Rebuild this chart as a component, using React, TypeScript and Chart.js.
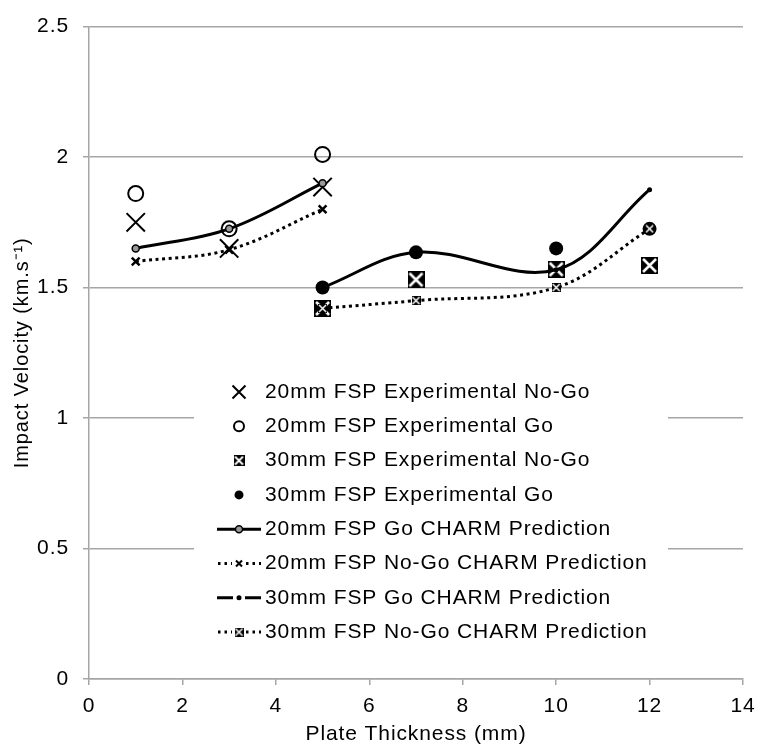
import React, { useEffect, useRef } from 'react';
import { Chart, registerables } from 'chart.js';
Chart.register(...registerables);

// ---- data ----
const x20 = [1, 3, 5];
const x30 = [5, 7, 10, 12];
const exp20NoGo = [1.75, 1.65, 1.885];
const exp20Go = [1.86, 1.725, 2.01];
const exp30NoGo = [1.42, 1.53, 1.57, 1.585];
const exp30Go = [1.5, 1.635, 1.65, 1.725];
const pred20Go = [1.65, 1.725, 1.9];
const pred20NoGo = [1.6, 1.645, 1.8];
const pred30Go = [1.5, 1.635, 1.568, 1.875];
const pred30NoGo = [1.42, 1.45, 1.5, 1.725];
const seriesNames = [
  '20mm FSP Experimental No-Go',
  '20mm FSP Experimental Go',
  '30mm FSP Experimental No-Go',
  '30mm FSP Experimental Go',
  '20mm FSP Go CHARM Prediction',
  '20mm FSP No-Go CHARM Prediction',
  '30mm FSP Go CHARM Prediction',
  '30mm FSP No-Go CHARM Prediction',
];
const xTitle = 'Plate Thickness (mm)';
const yTitle = 'Impact Velocity (km.s\u207B\u00B9)';

const FONT_FAMILY = '"Liberation Sans", Arial, sans-serif';
const GRID = '#a6a6a6';
const SPACING = '0.9px';

function boxX(size: number, lw: number, margin: number): HTMLCanvasElement {
  const c = document.createElement('canvas');
  c.width = size;
  c.height = size;
  const g = c.getContext('2d')!;
  g.fillStyle = '#000';
  g.fillRect(0, 0, size, size);
  g.strokeStyle = '#fff';
  g.lineWidth = lw;
  g.beginPath();
  g.moveTo(margin, margin);
  g.lineTo(size - margin, size - margin);
  g.moveTo(size - margin, margin);
  g.lineTo(margin, size - margin);
  g.stroke();
  return c;
}

const pts = (xs: number[], ys: number[]) => xs.map((x, i) => ({ x, y: ys[i] }));

function drawLegend(chart: any) {
  const ctx: CanvasRenderingContext2D = chart.ctx;
  ctx.save();
  ctx.fillStyle = '#fff';
  ctx.fillRect(194, 372, 474, 280);
  const cx = 239;
  const y0 = 392;
  const dy = 34.3;
  ctx.strokeStyle = '#000';
  ctx.fillStyle = '#000';
  const line = (y: number, dash: number[], segs: [number, number][]) => {
    ctx.save();
    ctx.lineWidth = 3;
    ctx.setLineDash(dash);
    ctx.beginPath();
    for (const [a, b] of segs) {
      ctx.moveTo(a, y);
      ctx.lineTo(b, y);
    }
    ctx.stroke();
    ctx.restore();
  };
  const xMark = (x: number, y: number, h: number, lw: number) => {
    ctx.save();
    ctx.lineWidth = lw;
    ctx.beginPath();
    ctx.moveTo(x - h, y - h);
    ctx.lineTo(x + h, y + h);
    ctx.moveTo(x + h, y - h);
    ctx.lineTo(x - h, y + h);
    ctx.stroke();
    ctx.restore();
  };
  for (let i = 0; i < seriesNames.length; i++) {
    const y = y0 + i * dy;
    switch (i) {
      case 0:
        xMark(cx, y, 6.5, 2);
        break;
      case 1:
        ctx.save();
        ctx.lineWidth = 2;
        ctx.beginPath();
        ctx.arc(cx, y, 5, 0, Math.PI * 2);
        ctx.stroke();
        ctx.restore();
        break;
      case 2:
        ctx.drawImage(boxX(11, 1.8, 1.5), cx - 5.5, y - 5.5);
        break;
      case 3:
        ctx.beginPath();
        ctx.arc(cx, y, 4.5, 0, Math.PI * 2);
        ctx.fill();
        break;
      case 4:
        line(y, [], [[217, 261]]);
        ctx.save();
        ctx.lineWidth = 1.5;
        ctx.fillStyle = '#999';
        ctx.beginPath();
        ctx.arc(cx, y, 3.5, 0, Math.PI * 2);
        ctx.fill();
        ctx.stroke();
        ctx.restore();
        break;
      case 5:
        line(y, [2.5, 4], [[218, 232], [246, 261]]);
        xMark(cx, y, 3, 2);
        break;
      case 6:
        line(y, [], [[217, 233], [245, 261]]);
        ctx.beginPath();
        ctx.arc(cx, y, 2.5, 0, Math.PI * 2);
        ctx.fill();
        break;
      case 7:
        line(y, [2.5, 4], [[218, 232], [246, 261]]);
        ctx.drawImage(boxX(9, 1.5, 1), cx - 4.5, y - 4.5);
        break;
    }
    ctx.fillStyle = '#000';
    ctx.font = `21px ${FONT_FAMILY}`;
    ctx.textBaseline = 'middle';
    ctx.textAlign = 'left';
    (ctx as any).letterSpacing = SPACING;
    ctx.fillText(seriesNames[i], 265, y);
  }
  ctx.restore();
}

export default function App() {
  const ref = useRef<HTMLCanvasElement | null>(null);
  useEffect(() => {
    if (!ref.current) return;
    const bigBox = boxX(17, 2.5, 2);
    const smallBox = boxX(9, 1.5, 1);
    const font = { family: FONT_FAMILY, size: 21 };
    const lineBase = {
      showLine: true,
      borderColor: '#000',
      borderWidth: 3,
      tension: 0.36,
      fill: false,
    };
    const datasets: any[] = [
      {
        label: seriesNames[0],
        data: pts(x20, exp20NoGo),
        showLine: false,
        pointStyle: 'crossRot',
        pointRadius: 13,
        pointBorderWidth: 2,
        pointBorderColor: '#000',
        order: 8,
      },
      {
        label: seriesNames[1],
        data: pts(x20, exp20Go),
        showLine: false,
        pointStyle: 'circle',
        pointRadius: 7.5,
        pointBorderWidth: 2,
        pointBorderColor: '#000',
        pointBackgroundColor: 'rgba(0,0,0,0)',
        order: 7,
      },
      {
        label: seriesNames[2],
        data: pts(x30, exp30NoGo),
        showLine: false,
        pointStyle: bigBox,
        pointRadius: 8,
        order: 6,
      },
      {
        label: seriesNames[3],
        data: pts(x30, exp30Go),
        showLine: false,
        pointStyle: 'circle',
        pointRadius: 7,
        pointBorderWidth: 0,
        pointBackgroundColor: '#000',
        order: 5,
      },
      {
        ...lineBase,
        label: seriesNames[4],
        data: pts(x20, pred20Go),
        pointStyle: 'circle',
        pointRadius: 3.5,
        pointBorderWidth: 1.5,
        pointBorderColor: '#000',
        pointBackgroundColor: '#999',
        order: 4,
      },
      {
        ...lineBase,
        label: seriesNames[5],
        data: pts(x20, pred20NoGo),
        borderDash: [3, 3.6],
        pointStyle: 'crossRot',
        pointRadius: 5.5,
        pointBorderWidth: 2.5,
        pointBorderColor: '#000',
        order: 3,
      },
      {
        ...lineBase,
        label: seriesNames[6],
        data: pts(x30, pred30Go),
        pointStyle: 'circle',
        pointRadius: 2.5,
        pointBorderWidth: 0,
        pointBackgroundColor: '#000',
        order: 2,
      },
      {
        ...lineBase,
        label: seriesNames[7],
        data: pts(x30, pred30NoGo),
        borderDash: [3, 3.6],
        pointStyle: smallBox,
        pointRadius: 4.5,
        order: 1,
      },
    ];
    const setSpacing = (c: any) => {
      (c.ctx as any).letterSpacing = SPACING;
    };
    const chart = new Chart(ref.current, {
      type: 'scatter',
      data: { datasets },
      options: {
        animation: false,
        responsive: true,
        maintainAspectRatio: false,
        layout: { padding: { top: 19, right: 11, left: 0, bottom: 0 } },
        plugins: {
          legend: { display: false },
          tooltip: { enabled: false },
        },
        scales: {
          x: {
            type: 'linear',
            min: 0,
            max: 14,
            ticks: { stepSize: 2, color: '#000', font, padding: 9, maxRotation: 0, callback: (v: any) => `${+v}` },
            grid: { drawOnChartArea: false, drawTicks: true, tickLength: 6, color: GRID, lineWidth: 1.5 },
            border: { color: GRID, width: 1.5 },
            title: { display: true, text: xTitle, color: '#000', font, padding: { top: 0, bottom: 0 } },
            afterFit: (s: any) => {
              s.height = 68;
              s.paddingRight = 11;
              s.paddingLeft = 0;
            },
          },
          y: {
            type: 'linear',
            min: 0,
            max: 2.5,
            ticks: { stepSize: 0.5, color: '#000', font, padding: 14, callback: (v: any) => `${+v}` },
            grid: { color: GRID, lineWidth: 1.5, tickLength: 6 },
            border: { color: GRID, width: 1.5 },
            title: { display: true, text: yTitle, color: '#000', font: { family: FONT_FAMILY, size: 20 }, padding: { top: 10, bottom: 10 } },
            afterFit: (s: any) => {
              s.width = 89;
            },
          },
        },
      },
      plugins: [
        {
          id: 'spacing',
          beforeLayout: setSpacing,
          beforeDraw: setSpacing,
        },
        {
          id: 'insideLegend',
          afterDraw: (c: any) => drawLegend(c),
        },
      ],
    } as any);
    return () => chart.destroy();
  }, []);
  return (
    <div style={{ position: 'fixed', left: 0, top: 0, width: 758, height: 747, background: '#fff' }}>
      <canvas ref={ref} />
    </div>
  );
}
